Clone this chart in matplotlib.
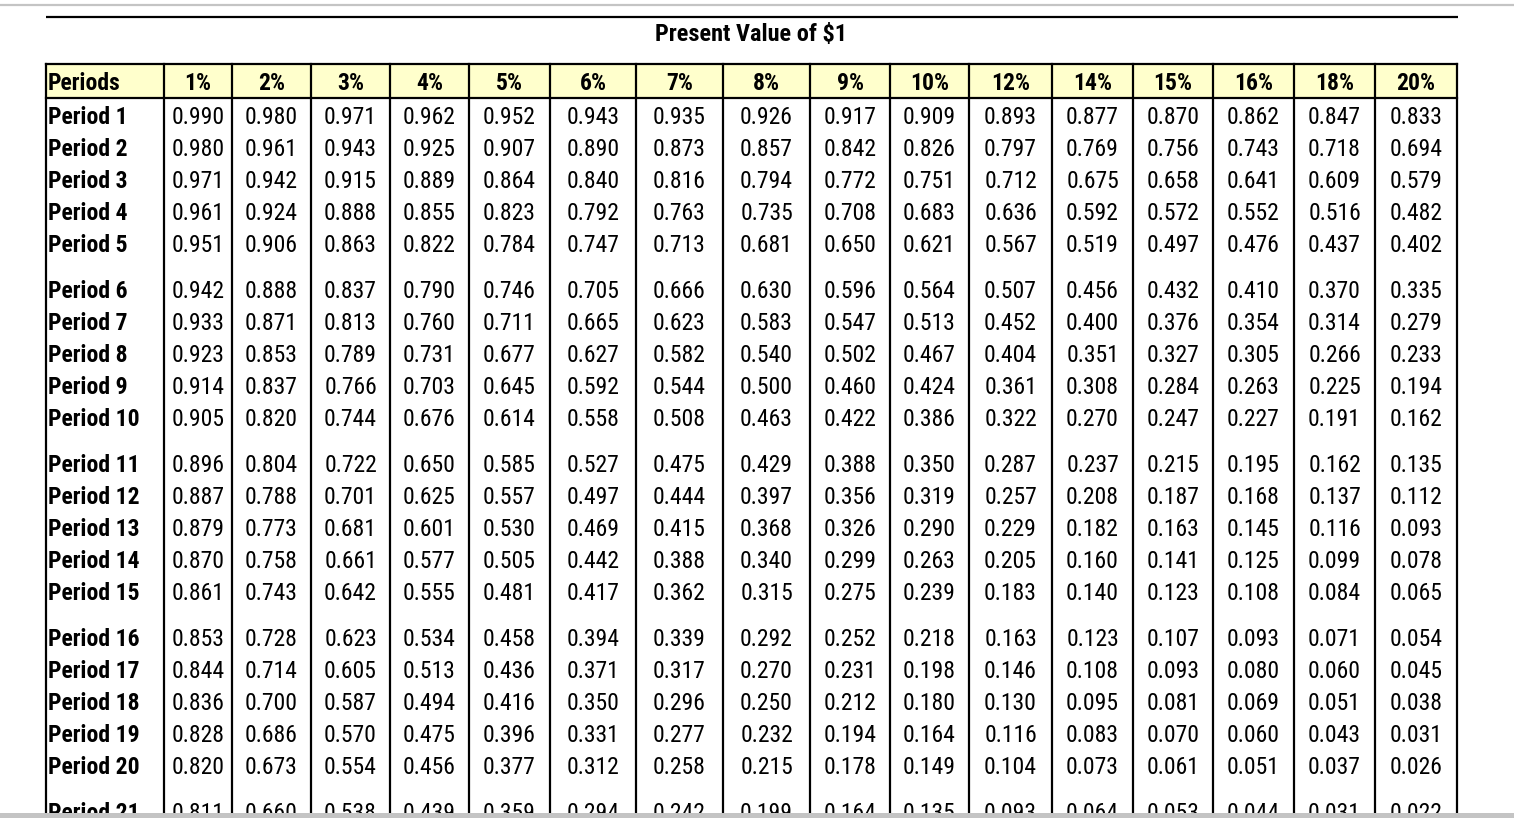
import matplotlib
matplotlib.use("Agg")
import matplotlib.pyplot as plt
from matplotlib import font_manager as fm

names = sorted({f.name for f in fm.fontManager.ttflist})

title = "Present Value of $1"
rates = ["1%", "2%", "3%", "4%", "5%", "6%", "7%", "8%", "9%", "10%",
         "12%", "14%", "15%", "16%", "18%", "20%"]
periods = [f"Period {i}" for i in range(1, 22)]

p01 = [0.990, 0.980, 0.971, 0.962, 0.952, 0.943, 0.935, 0.926, 0.917, 0.909, 0.893, 0.877, 0.870, 0.862, 0.847, 0.833]
p02 = [0.980, 0.961, 0.943, 0.925, 0.907, 0.890, 0.873, 0.857, 0.842, 0.826, 0.797, 0.769, 0.756, 0.743, 0.718, 0.694]
p03 = [0.971, 0.942, 0.915, 0.889, 0.864, 0.840, 0.816, 0.794, 0.772, 0.751, 0.712, 0.675, 0.658, 0.641, 0.609, 0.579]
p04 = [0.961, 0.924, 0.888, 0.855, 0.823, 0.792, 0.763, 0.735, 0.708, 0.683, 0.636, 0.592, 0.572, 0.552, 0.516, 0.482]
p05 = [0.951, 0.906, 0.863, 0.822, 0.784, 0.747, 0.713, 0.681, 0.650, 0.621, 0.567, 0.519, 0.497, 0.476, 0.437, 0.402]
p06 = [0.942, 0.888, 0.837, 0.790, 0.746, 0.705, 0.666, 0.630, 0.596, 0.564, 0.507, 0.456, 0.432, 0.410, 0.370, 0.335]
p07 = [0.933, 0.871, 0.813, 0.760, 0.711, 0.665, 0.623, 0.583, 0.547, 0.513, 0.452, 0.400, 0.376, 0.354, 0.314, 0.279]
p08 = [0.923, 0.853, 0.789, 0.731, 0.677, 0.627, 0.582, 0.540, 0.502, 0.467, 0.404, 0.351, 0.327, 0.305, 0.266, 0.233]
p09 = [0.914, 0.837, 0.766, 0.703, 0.645, 0.592, 0.544, 0.500, 0.460, 0.424, 0.361, 0.308, 0.284, 0.263, 0.225, 0.194]
p10 = [0.905, 0.820, 0.744, 0.676, 0.614, 0.558, 0.508, 0.463, 0.422, 0.386, 0.322, 0.270, 0.247, 0.227, 0.191, 0.162]
p11 = [0.896, 0.804, 0.722, 0.650, 0.585, 0.527, 0.475, 0.429, 0.388, 0.350, 0.287, 0.237, 0.215, 0.195, 0.162, 0.135]
p12 = [0.887, 0.788, 0.701, 0.625, 0.557, 0.497, 0.444, 0.397, 0.356, 0.319, 0.257, 0.208, 0.187, 0.168, 0.137, 0.112]
p13 = [0.879, 0.773, 0.681, 0.601, 0.530, 0.469, 0.415, 0.368, 0.326, 0.290, 0.229, 0.182, 0.163, 0.145, 0.116, 0.093]
p14 = [0.870, 0.758, 0.661, 0.577, 0.505, 0.442, 0.388, 0.340, 0.299, 0.263, 0.205, 0.160, 0.141, 0.125, 0.099, 0.078]
p15 = [0.861, 0.743, 0.642, 0.555, 0.481, 0.417, 0.362, 0.315, 0.275, 0.239, 0.183, 0.140, 0.123, 0.108, 0.084, 0.065]
p16 = [0.853, 0.728, 0.623, 0.534, 0.458, 0.394, 0.339, 0.292, 0.252, 0.218, 0.163, 0.123, 0.107, 0.093, 0.071, 0.054]
p17 = [0.844, 0.714, 0.605, 0.513, 0.436, 0.371, 0.317, 0.270, 0.231, 0.198, 0.146, 0.108, 0.093, 0.080, 0.060, 0.045]
p18 = [0.836, 0.700, 0.587, 0.494, 0.416, 0.350, 0.296, 0.250, 0.212, 0.180, 0.130, 0.095, 0.081, 0.069, 0.051, 0.038]
p19 = [0.828, 0.686, 0.570, 0.475, 0.396, 0.331, 0.277, 0.232, 0.194, 0.164, 0.116, 0.083, 0.070, 0.060, 0.043, 0.031]
p20 = [0.820, 0.673, 0.554, 0.456, 0.377, 0.312, 0.258, 0.215, 0.178, 0.149, 0.104, 0.073, 0.061, 0.051, 0.037, 0.026]
p21 = [0.811, 0.660, 0.538, 0.439, 0.359, 0.294, 0.242, 0.199, 0.164, 0.135, 0.093, 0.064, 0.053, 0.044, 0.031, 0.022]
table_rows = [p01, p02, p03, p04, p05, p06, p07, p08, p09, p10, p11,
              p12, p13, p14, p15, p16, p17, p18, p19, p20, p21]

# pick a condensed font if available
cands = ["Liberation Sans Narrow", "Arial Narrow", "Roboto Condensed", "Open Sans Condensed"]
fam = next((c for c in cands if c in names), "Liberation Sans")

W, H = 1514, 818
fig = plt.figure(figsize=(W / 100, H / 100), dpi=100)
ax = fig.add_axes([0, 0, 1, 1])
ax.set_xlim(0, W)
ax.set_ylim(H, 0)
ax.axis("off")

# layout (pixels)
col_edges = [46, 164, 232, 311, 390, 469, 550, 636, 723, 810, 890, 969,
             1052, 1133, 1213, 1294, 1375, 1457]
hdr_top, hdr_bot = 64, 98
row_y0, row_step, group_gap = 117, 32, 14
lw = 1.6
fs = 17

# top rules
ax.plot([0, W], [5, 5], color="#c4c4c4", lw=1.6, solid_capstyle="butt")
ax.plot([46, 1458], [16.5, 16.5], color="black", lw=1.6, solid_capstyle="butt")
ax.text(751, 34, title, ha="center", va="center", fontsize=17.5,
        fontweight="bold", family=fam)

# header background
ax.add_patch(plt.Rectangle((col_edges[0], hdr_top), col_edges[-1] - col_edges[0],
                           hdr_bot - hdr_top, facecolor="#FFFFCC", edgecolor="none"))
ax.plot([col_edges[0], col_edges[-1]], [hdr_top, hdr_top], color="black", lw=lw)
ax.plot([col_edges[0], col_edges[-1]], [hdr_bot, hdr_bot], color="black", lw=lw)
for x in col_edges:
    ax.plot([x, x], [hdr_top, H + 5], color="black", lw=lw)

hy = (hdr_top + hdr_bot) / 2 + 2.5
ax.text(48, hy, "Periods", ha="left", va="center", fontsize=fs,
        fontweight="bold", family=fam)
for j, r in enumerate(rates):
    cx = (col_edges[j + 1] + col_edges[j + 2]) / 2
    ax.text(cx, hy, r, ha="center", va="center", fontsize=fs,
            fontweight="bold", family=fam)

for i, (lab, vals) in enumerate(zip(periods, table_rows)):
    y = row_y0 + i * row_step + (i // 5) * group_gap
    ax.text(48, y, lab, ha="left", va="center", fontsize=fs,
            fontweight="bold", family=fam)
    for j, v in enumerate(vals):
        cx = (col_edges[j + 1] + col_edges[j + 2]) / 2
        ax.text(cx, y, f"{v:.3f}", ha="center", va="center", fontsize=fs,
                family=fam)

# bottom grey band (page edge)
ax.add_patch(plt.Rectangle((0, 812.5), W, 10, facecolor="#c4c4c4",
                           edgecolor="none", zorder=5))

fig.savefig("out.png", dpi=100)
